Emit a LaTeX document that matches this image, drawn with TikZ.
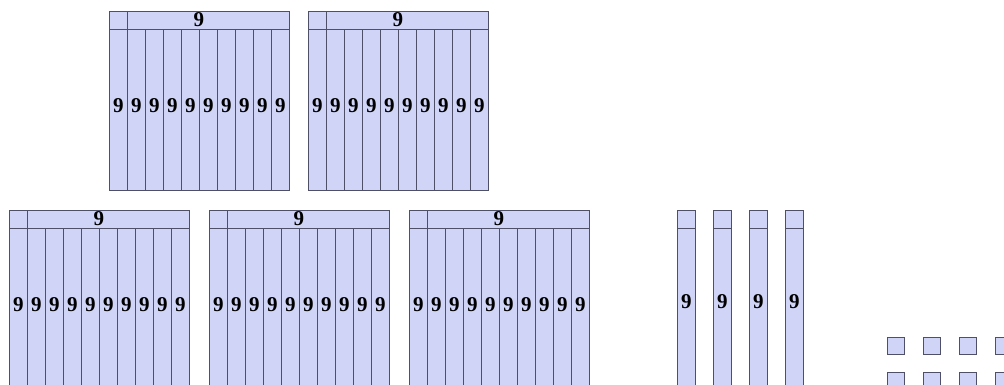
\documentclass[tikz,border=0pt]{standalone}
\usepackage{fontspec}
\setmainfont{Liberation Serif}
\definecolor{blocofill}{RGB}{208,212,246}
\definecolor{blocodraw}{RGB}{78,80,104}

\begin{document}
\begin{tikzpicture}[
    x=0.02cm, y=-0.02cm,
    % Header cells of a block
    cab/.style={
        draw=blocodraw, fill=blocofill, line width=0.5pt,
        minimum height=0.36cm, inner sep=0pt, anchor=north west
    },
    % Tall columns with the digit
    col/.style={
        draw=blocodraw, fill=blocofill, line width=0.5pt,
        minimum width=0.36cm, minimum height=3.22cm, inner sep=0pt,
        text depth=0.16cm, anchor=north west,
        font=\fontsize{12}{14}\selectfont\bfseries
    },
    % Unit squares
    unid/.style={
        draw=blocodraw, fill=blocofill, line width=0.5pt,
        minimum size=0.34cm, inner sep=0pt, anchor=north west
    },
    num/.style={font=\fontsize{12}{14}\selectfont\bfseries, inner sep=0pt}
]

\useasboundingbox (0,0) rectangle (1004,385);
\clip (0,0) rectangle (1004,385);

% ---- HUNDRED BLOCKS (two on top, three below) ----
\foreach \b/\bx/\by in {1/109/11, 2/308/11, 3/9/210, 4/209/210, 5/409/210} {
    \node[cab, minimum width=0.36cm] (h\b_a) at (\bx,\by) {};
    \node[cab, minimum width=3.24cm] (h\b_b) at (\bx+18,\by) {};
    \node[num] (h\b_n) at (\bx+90,\by+9) {9};
    \foreach \i in {0,...,9}
        \node[col] (h\b_c\i) at (\bx+18*\i,\by+18) {9};
}

% ---- TEN RODS ----
\foreach \d/\dx in {1/677, 2/713, 3/749, 4/785} {
    \node[cab, minimum width=0.36cm] (d\d_a) at (\dx,210) {};
    \node[col, text depth=0.3cm] (d\d_c) at (\dx,228) {9};
}

% ---- UNIT SQUARES ----
\foreach \u/\ux in {1/887, 2/923, 3/959, 4/995} {
    \node[unid] (u\u_1) at (\ux,337) {};
    \node[unid] (u\u_2) at (\ux,372) {};
}

\end{tikzpicture}
\end{document}
